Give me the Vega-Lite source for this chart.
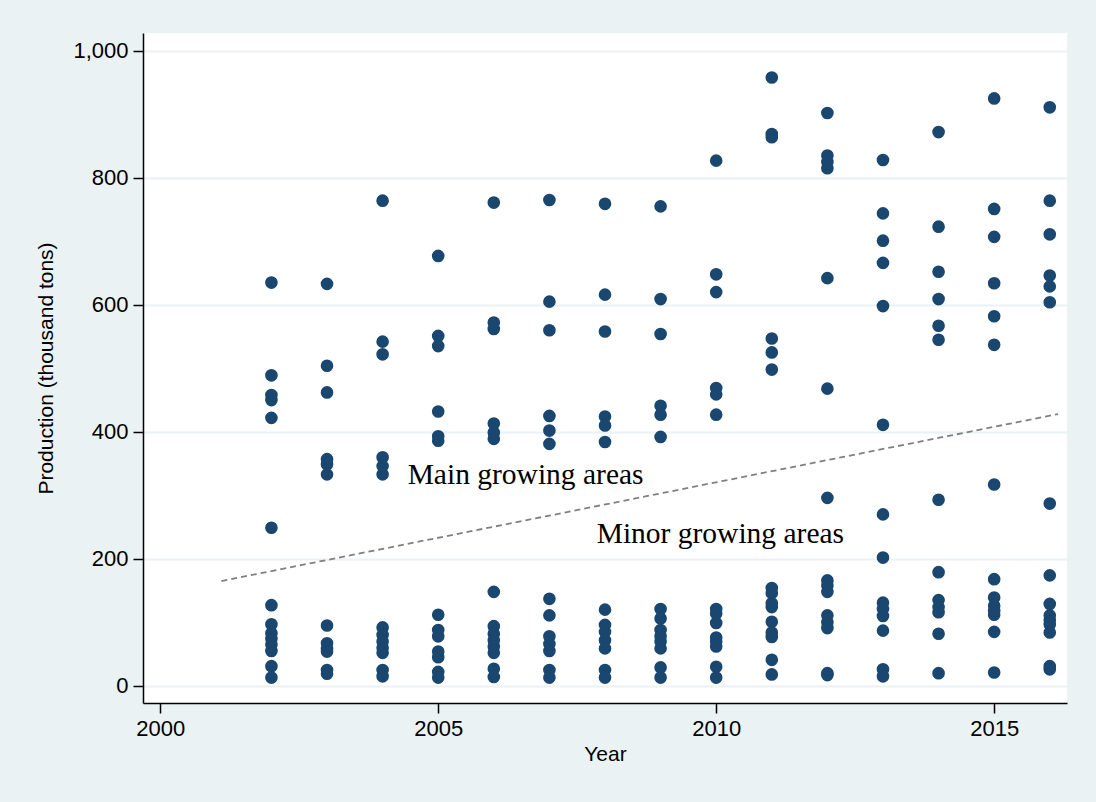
{
  "$schema": "https://vega.github.io/schema/vega-lite/v6.json",
  "autosize": {"type": "none"},
  "padding": {"left": 143, "top": 33, "right": 29, "bottom": 99},
  "width": 924,
  "height": 670,
  "background": "#EAF2F3",
  "config": {
    "view": {"fill": "#FFFFFF", "stroke": null},
    "font": "Liberation Sans",
    "axis": {
      "labelFont": "Liberation Sans",
      "titleFont": "Liberation Sans",
      "labelFontSize": 22,
      "titleFontSize": 21,
      "titleFontWeight": "normal",
      "labelColor": "#000000",
      "titleColor": "#000000",
      "domainColor": "#000000",
      "domainWidth": 1.5,
      "tickColor": "#000000",
      "tickWidth": 1.5,
      "tickSize": 10,
      "labelPadding": 5
    }
  },
  "datasets": {
    "production": [
      {"year": 2002, "prod": 635}, {"year": 2002, "prod": 489}, {"year": 2002, "prod": 458}, {"year": 2002, "prod": 450}, {"year": 2002, "prod": 422}, {"year": 2002, "prod": 249},
      {"year": 2002, "prod": 127}, {"year": 2002, "prod": 97}, {"year": 2002, "prod": 83}, {"year": 2002, "prod": 74}, {"year": 2002, "prod": 65}, {"year": 2002, "prod": 55}, {"year": 2002, "prod": 31}, {"year": 2002, "prod": 13},
      {"year": 2003, "prod": 633}, {"year": 2003, "prod": 504}, {"year": 2003, "prod": 462}, {"year": 2003, "prod": 357}, {"year": 2003, "prod": 349}, {"year": 2003, "prod": 333},
      {"year": 2003, "prod": 95}, {"year": 2003, "prod": 67}, {"year": 2003, "prod": 58}, {"year": 2003, "prod": 54}, {"year": 2003, "prod": 25}, {"year": 2003, "prod": 19},
      {"year": 2004, "prod": 764}, {"year": 2004, "prod": 542}, {"year": 2004, "prod": 522}, {"year": 2004, "prod": 360}, {"year": 2004, "prod": 346}, {"year": 2004, "prod": 333},
      {"year": 2004, "prod": 92}, {"year": 2004, "prod": 80}, {"year": 2004, "prod": 70}, {"year": 2004, "prod": 60}, {"year": 2004, "prod": 52}, {"year": 2004, "prod": 25}, {"year": 2004, "prod": 15},
      {"year": 2005, "prod": 677}, {"year": 2005, "prod": 551}, {"year": 2005, "prod": 535}, {"year": 2005, "prod": 432}, {"year": 2005, "prod": 393}, {"year": 2005, "prod": 386},
      {"year": 2005, "prod": 112}, {"year": 2005, "prod": 88}, {"year": 2005, "prod": 78}, {"year": 2005, "prod": 54}, {"year": 2005, "prod": 45}, {"year": 2005, "prod": 22}, {"year": 2005, "prod": 13},
      {"year": 2006, "prod": 761}, {"year": 2006, "prod": 572}, {"year": 2006, "prod": 562}, {"year": 2006, "prod": 413}, {"year": 2006, "prod": 399}, {"year": 2006, "prod": 389},
      {"year": 2006, "prod": 148}, {"year": 2006, "prod": 94}, {"year": 2006, "prod": 82}, {"year": 2006, "prod": 72}, {"year": 2006, "prod": 62}, {"year": 2006, "prod": 52}, {"year": 2006, "prod": 27}, {"year": 2006, "prod": 14},
      {"year": 2007, "prod": 765}, {"year": 2007, "prod": 605}, {"year": 2007, "prod": 560}, {"year": 2007, "prod": 425}, {"year": 2007, "prod": 402}, {"year": 2007, "prod": 381},
      {"year": 2007, "prod": 137}, {"year": 2007, "prod": 111}, {"year": 2007, "prod": 78}, {"year": 2007, "prod": 66}, {"year": 2007, "prod": 55}, {"year": 2007, "prod": 25}, {"year": 2007, "prod": 13},
      {"year": 2008, "prod": 759}, {"year": 2008, "prod": 616}, {"year": 2008, "prod": 558}, {"year": 2008, "prod": 424}, {"year": 2008, "prod": 410}, {"year": 2008, "prod": 384},
      {"year": 2008, "prod": 120}, {"year": 2008, "prod": 96}, {"year": 2008, "prod": 85}, {"year": 2008, "prod": 72}, {"year": 2008, "prod": 59}, {"year": 2008, "prod": 25}, {"year": 2008, "prod": 13},
      {"year": 2009, "prod": 755}, {"year": 2009, "prod": 609}, {"year": 2009, "prod": 554}, {"year": 2009, "prod": 441}, {"year": 2009, "prod": 427}, {"year": 2009, "prod": 392},
      {"year": 2009, "prod": 121}, {"year": 2009, "prod": 106}, {"year": 2009, "prod": 88}, {"year": 2009, "prod": 78}, {"year": 2009, "prod": 70}, {"year": 2009, "prod": 59}, {"year": 2009, "prod": 29}, {"year": 2009, "prod": 13},
      {"year": 2010, "prod": 827}, {"year": 2010, "prod": 648}, {"year": 2010, "prod": 620}, {"year": 2010, "prod": 469}, {"year": 2010, "prod": 459}, {"year": 2010, "prod": 427},
      {"year": 2010, "prod": 121}, {"year": 2010, "prod": 114}, {"year": 2010, "prod": 99}, {"year": 2010, "prod": 76}, {"year": 2010, "prod": 70}, {"year": 2010, "prod": 62}, {"year": 2010, "prod": 30}, {"year": 2010, "prod": 13},
      {"year": 2011, "prod": 958}, {"year": 2011, "prod": 869}, {"year": 2011, "prod": 864}, {"year": 2011, "prod": 547}, {"year": 2011, "prod": 525}, {"year": 2011, "prod": 498},
      {"year": 2011, "prod": 154}, {"year": 2011, "prod": 146}, {"year": 2011, "prod": 130}, {"year": 2011, "prod": 124}, {"year": 2011, "prod": 101}, {"year": 2011, "prod": 84}, {"year": 2011, "prod": 77}, {"year": 2011, "prod": 41}, {"year": 2011, "prod": 18},
      {"year": 2012, "prod": 902}, {"year": 2012, "prod": 835}, {"year": 2012, "prod": 825}, {"year": 2012, "prod": 815}, {"year": 2012, "prod": 642}, {"year": 2012, "prod": 468}, {"year": 2012, "prod": 296},
      {"year": 2012, "prod": 166}, {"year": 2012, "prod": 158}, {"year": 2012, "prod": 148}, {"year": 2012, "prod": 111}, {"year": 2012, "prod": 100}, {"year": 2012, "prod": 91}, {"year": 2012, "prod": 20}, {"year": 2012, "prod": 17},
      {"year": 2013, "prod": 828}, {"year": 2013, "prod": 744}, {"year": 2013, "prod": 701}, {"year": 2013, "prod": 666}, {"year": 2013, "prod": 598}, {"year": 2013, "prod": 411}, {"year": 2013, "prod": 270},
      {"year": 2013, "prod": 202}, {"year": 2013, "prod": 131}, {"year": 2013, "prod": 121}, {"year": 2013, "prod": 110}, {"year": 2013, "prod": 87}, {"year": 2013, "prod": 26}, {"year": 2013, "prod": 15},
      {"year": 2014, "prod": 872}, {"year": 2014, "prod": 723}, {"year": 2014, "prod": 652}, {"year": 2014, "prod": 609}, {"year": 2014, "prod": 567}, {"year": 2014, "prod": 545}, {"year": 2014, "prod": 293},
      {"year": 2014, "prod": 179}, {"year": 2014, "prod": 135}, {"year": 2014, "prod": 124}, {"year": 2014, "prod": 116}, {"year": 2014, "prod": 82}, {"year": 2014, "prod": 20},
      {"year": 2015, "prod": 925}, {"year": 2015, "prod": 751}, {"year": 2015, "prod": 707}, {"year": 2015, "prod": 634}, {"year": 2015, "prod": 582}, {"year": 2015, "prod": 537}, {"year": 2015, "prod": 317},
      {"year": 2015, "prod": 168}, {"year": 2015, "prod": 139}, {"year": 2015, "prod": 126}, {"year": 2015, "prod": 118}, {"year": 2015, "prod": 112}, {"year": 2015, "prod": 85}, {"year": 2015, "prod": 21},
      {"year": 2016, "prod": 911}, {"year": 2016, "prod": 764}, {"year": 2016, "prod": 711}, {"year": 2016, "prod": 646}, {"year": 2016, "prod": 629}, {"year": 2016, "prod": 604}, {"year": 2016, "prod": 287},
      {"year": 2016, "prod": 174}, {"year": 2016, "prod": 129}, {"year": 2016, "prod": 111}, {"year": 2016, "prod": 104}, {"year": 2016, "prod": 97}, {"year": 2016, "prod": 84}, {"year": 2016, "prod": 31}, {"year": 2016, "prod": 26}
    ],
    "divider": [
      {"year": 2001.1, "prod": 165},
      {"year": 2016.15, "prod": 428}
    ],
    "areaLabels": [
      {"year": 2004.45, "prod": 332, "label": "Main growing areas"},
      {"year": 2007.85, "prod": 239, "label": "Minor growing areas"}
    ]
  },
  "layer": [
    {
      "data": {"name": "production"},
      "mark": {"type": "point", "filled": true, "shape": "circle", "size": 160, "color": "#1A476F", "opacity": 1},
      "encoding": {
        "x": {
          "field": "year",
          "type": "quantitative",
          "title": "Year",
          "scale": {"domain": [1999.69, 2016.31], "nice": false, "zero": false},
          "axis": {"values": [2000, 2005, 2010, 2015], "format": "d", "grid": false, "titlePadding": 4}
        },
        "y": {
          "field": "prod",
          "type": "quantitative",
          "title": "Production (thousand tons)",
          "scale": {"domain": [-27, 1028], "nice": false, "zero": false},
          "axis": {
            "values": [0, 200, 400, 600, 800, 1000],
            "format": ",d",
            "grid": true,
            "gridColor": "#EAF2F3",
            "gridWidth": 2,
            "titlePadding": 16
          }
        }
      }
    },
    {
      "data": {"name": "divider"},
      "mark": {"type": "line", "color": "#808080", "strokeWidth": 1.8, "strokeDash": [6, 4]},
      "encoding": {
        "x": {"field": "year", "type": "quantitative"},
        "y": {"field": "prod", "type": "quantitative"}
      }
    },
    {
      "data": {"name": "areaLabels"},
      "mark": {"type": "text", "font": "Liberation Serif", "fontSize": 29.5, "align": "left", "baseline": "middle", "color": "#000000"},
      "encoding": {
        "x": {"field": "year", "type": "quantitative"},
        "y": {"field": "prod", "type": "quantitative"},
        "text": {"field": "label"}
      }
    }
  ]
}
